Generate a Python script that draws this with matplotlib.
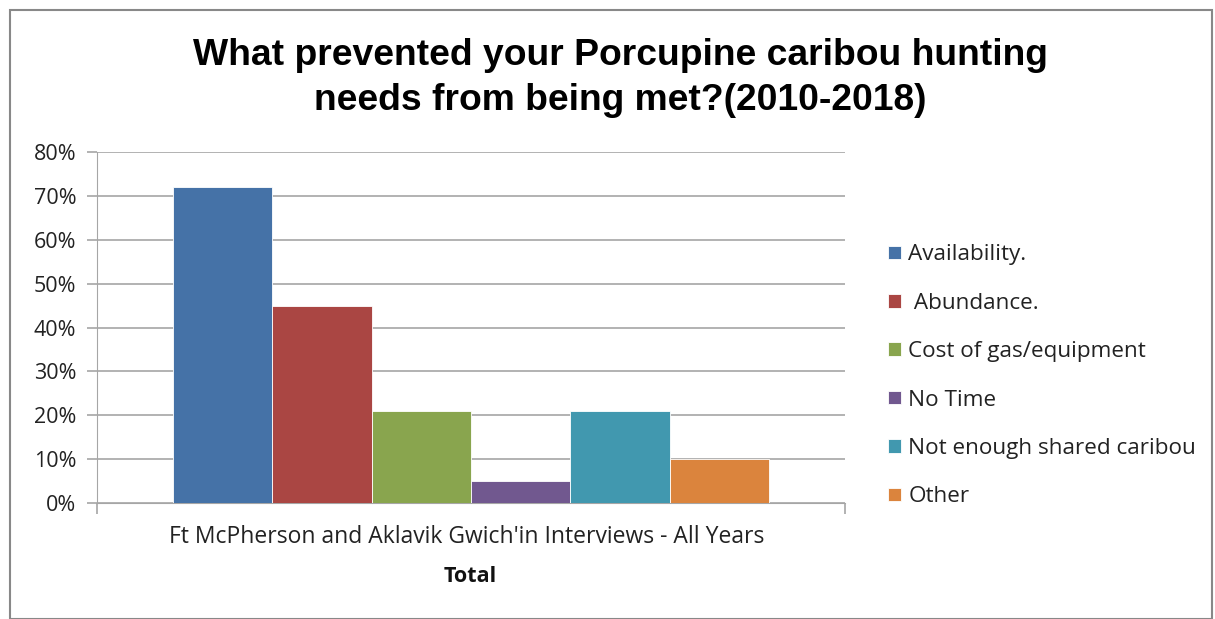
import matplotlib.pyplot as plt
from matplotlib.patches import Rectangle
from matplotlib.ticker import PercentFormatter

categories = ["Availability.", " Abundance.", "Cost of gas/equipment", "No Time",
              "Not enough shared caribou", "Other"]
values = [0.72, 0.45, 0.21, 0.05, 0.21, 0.10]
colors = ["#4572a7", "#aa4643", "#89a54e", "#71588f", "#4198af", "#db843d"]
group_label = "Ft McPherson and Aklavik Gwich'in Interviews - All Years"

plt.rcParams['font.family'] = ['Open Sans', 'DejaVu Sans']

fig = plt.figure(figsize=(12.15, 6.19), dpi=100)
fig.patches.append(Rectangle((10 / 1215, 0), 1202 / 1215, 609 / 619, transform=fig.transFigure,
                             fill=False, edgecolor="#888888", linewidth=1.5))

ax = fig.add_axes([97 / 1215, 1 - 503 / 619, 748 / 1215, 351 / 619])
w = 0.797 / len(values)
handles = []
for i in range(len(values)):
    x = -0.797 / 2 + w * (i + 0.5)
    b = ax.bar(x, values[i], width=w, color=colors[i], edgecolor="white", linewidth=0.6,
               label=categories[i], zorder=3)
    handles.append(b)

ax.set_xlim(-0.5, 0.5)
ax.set_ylim(0, 0.8)
ax.yaxis.set_major_formatter(PercentFormatter(1.0, decimals=0))
ax.set_yticks([i / 10 for i in range(9)])
ax.grid(axis="y", color="#a6a6a6", linewidth=1.2, zorder=0)
for s in ["top", "right"]:
    ax.spines[s].set_visible(False)
ax.spines["left"].set_color("#a6a6a6")
ax.spines["bottom"].set_color("#a6a6a6")
ax.tick_params(axis="y", labelsize=15.5, length=7, pad=8, color="#a6a6a6", width=1.2,
               labelcolor="#222222")
ax.set_xticks([-0.5, 0.5])
ax.set_xticklabels(["", ""])
ax.tick_params(axis="x", length=8, color="#a6a6a6", width=1.2, direction="out")

fig.text(467 / 1215, 1 - 537 / 619, group_label, ha="center", va="center", fontsize=16.5,
         color="#222222")
fig.text(470 / 1215, 1 - 577 / 619, "Total", ha="center", va="center", fontsize=15.5,
         fontweight="bold", color="#111111")

fig.text(620 / 1215, 1 - 78 / 619, "What prevented your Porcupine caribou hunting\nneeds from being met?(2010-2018)",
         ha="center", va="center", fontsize=26.8, fontweight="bold", family=["Liberation Sans"],
         linespacing=1.39)

leg = fig.legend(handles=handles, labels=categories, loc="upper left",
                 bbox_to_anchor=(868 / 1215, 1 - 224 / 619), frameon=False, fontsize=16.2,
                 handlelength=0.55, handleheight=0.55, handletextpad=0.35, labelspacing=1.22)
for t in leg.get_texts():
    t.set_color("#222222")

fig.savefig("out.png", dpi=100)
